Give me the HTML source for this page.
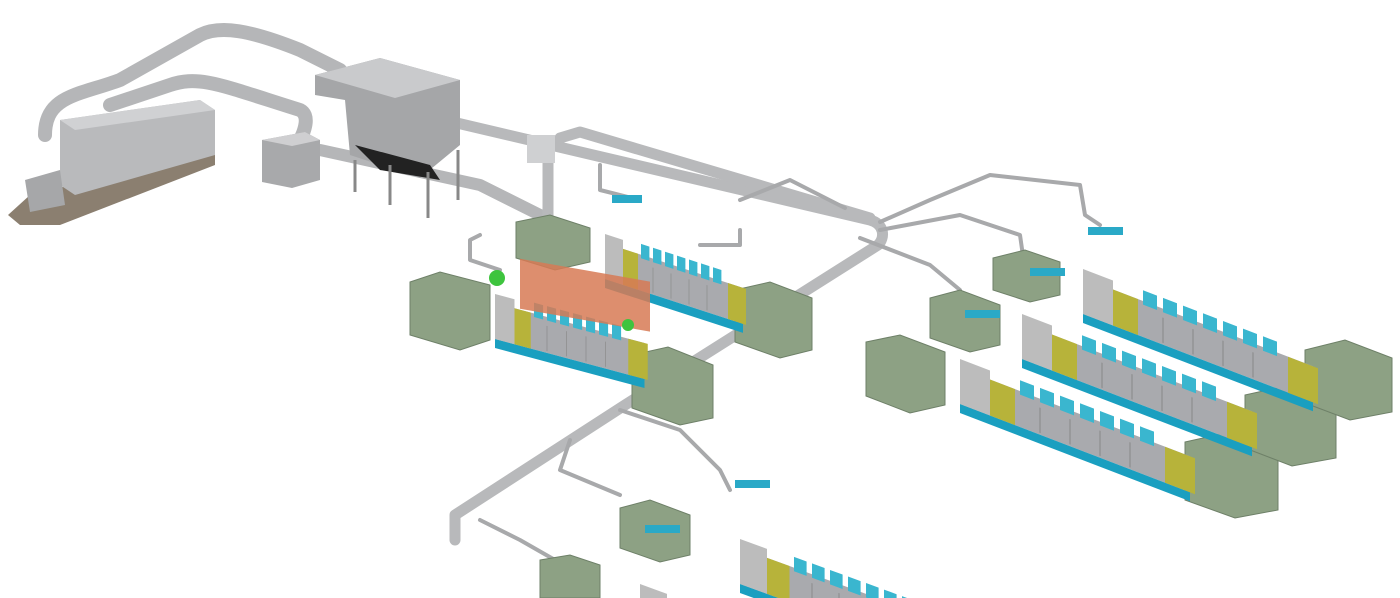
<!DOCTYPE html>
<html><head><meta charset="utf-8"><style>
html,body{margin:0;padding:0;background:#fff;width:1400px;height:598px;overflow:hidden}
svg{display:block}
</style></head><body>
<svg width="1400" height="598" viewBox="0 0 1400 598" xmlns="http://www.w3.org/2000/svg" style="overflow:hidden">
<defs>
<g id="row">
  <polygon points="0,20 230,20 230,60 0,60" fill="#a9aaae"/>
  <polygon points="0,60 230,60 230,70 0,70" fill="#1a9fc0"/>
  <polygon points="0,10 30,10 30,60 0,60" fill="#bcbcbc"/>
  <polygon points="30,20 55,20 55,60 30,60" fill="#b7b33a"/>
  <polygon points="205,20 235,20 235,60 205,60" fill="#b7b33a"/>
  <g fill="#3ab6cf">
    <rect x="60" y="8" width="14" height="16"/><rect x="80" y="8" width="14" height="16"/>
    <rect x="100" y="8" width="14" height="16"/><rect x="120" y="8" width="14" height="16"/>
    <rect x="140" y="8" width="14" height="16"/><rect x="160" y="8" width="14" height="16"/>
    <rect x="180" y="8" width="14" height="16"/>
  </g>
  <g stroke="#888" stroke-width="1"><line x1="80" y1="30" x2="80" y2="58"/><line x1="110" y1="30" x2="110" y2="58"/><line x1="140" y1="30" x2="140" y2="58"/><line x1="170" y1="30" x2="170" y2="58"/></g>
</g>
</defs>
<g fill="none" stroke-linecap="round" stroke-linejoin="round">
  <path d="M45,135 C45,95 80,95 120,80 L200,35 C220,25 250,30 300,50 L340,70" stroke="#b5b6b8" stroke-width="14"/>
  <path d="M110,105 L170,85 C200,75 220,85 300,110 C310,115 305,130 300,140" stroke="#b5b6b8" stroke-width="14"/>
  <path d="M410,112 L870,220 C885,224 885,238 878,245 L625,405 L455,515 L455,540" stroke="#b8b9bb" stroke-width="11"/>
  <path d="M320,150 L480,185 L540,215" stroke="#b5b6b8" stroke-width="12"/>
  <path d="M560,138 L580,132 L870,218" stroke="#b8b9bb" stroke-width="11"/>
  <path d="M548,145 L548,215" stroke="#b8b9bb" stroke-width="11"/>
  <g stroke="#a8a9ab" stroke-width="4">
    <path d="M880,222 L930,200 L990,175 L1080,185 L1085,215 L1100,225"/>
    <path d="M880,230 L960,215 L1020,235 L1025,270"/>
    <path d="M860,238 L930,265 L960,290 L965,320"/>
    <path d="M740,200 L790,180 L845,208"/>
    <path d="M600,165 L600,190 L640,200"/>
    <path d="M480,235 L470,240 L470,260 L500,270"/>
    <path d="M620,410 L680,430 L720,470 L730,490"/>
    <path d="M570,440 L560,470 L620,495"/>
    <path d="M480,520 L520,540 L555,560 L560,598"/>
    <path d="M740,230 L740,245 L700,245"/>
  </g>
</g>
<polygon points="8,215 30,195 215,150 215,165 60,225 20,225" fill="#8b7f70"/>
<polygon points="60,120 200,100 215,110 215,155 75,195 60,185" fill="#b9babc"/>
<polygon points="60,120 200,100 215,110 75,130" fill="#d0d1d3"/>
<polygon points="25,180 60,170 65,205 30,212" fill="#a6a7a9"/>
<polygon points="262,140 305,132 320,140 320,180 292,188 262,182" fill="#a8a9ab"/>
<polygon points="262,140 305,132 320,140 292,146" fill="#cfcfd1"/>
<polygon points="315,75 380,58 460,80 460,145 420,178 350,155 345,100 315,95" fill="#a5a6a8"/>
<polygon points="315,75 380,58 460,80 395,98" fill="#c9cacc"/>
<polygon points="355,145 430,165 440,180 380,170" fill="#222"/>
<g stroke="#888" stroke-width="3"><line x1="355" y1="160" x2="355" y2="192"/><line x1="390" y1="165" x2="390" y2="205"/><line x1="428" y1="172" x2="428" y2="218"/><line x1="458" y1="150" x2="458" y2="200"/></g>
<rect x="527" y="135" width="28" height="28" fill="#cfd0d2"/>
<g fill="#8da184" stroke="#6e8068" stroke-width="1">
  <polygon points="410,282 440,272 490,285 490,340 460,350 410,335"/>
  <polygon points="516,222 550,215 590,228 590,262 555,270 516,258"/>
  <polygon points="735,290 770,282 812,298 812,350 780,358 735,342"/>
  <polygon points="632,355 668,347 713,365 713,418 680,425 632,408"/>
  <polygon points="866,342 900,335 945,352 945,405 910,413 866,396"/>
  <polygon points="930,298 960,290 1000,305 1000,345 970,352 930,338"/>
  <polygon points="993,258 1025,250 1060,262 1060,295 1030,302 993,290"/>
  <polygon points="1185,442 1230,432 1278,450 1278,510 1235,518 1185,500"/>
  <polygon points="1245,395 1290,385 1336,402 1336,458 1292,466 1245,448"/>
  <polygon points="1305,350 1345,340 1392,358 1392,412 1350,420 1305,403"/>
  <polygon points="620,508 650,500 690,515 690,555 660,562 620,548"/>
  <polygon points="540,560 570,555 600,565 600,598 540,598"/>
</g>
<use href="#row" transform="translate(495,285) skewY(15) scale(0.65,0.9)"/>
<use href="#row" transform="translate(605,225) skewY(18) scale(0.6,0.9)"/>
<rect x="520" y="262" width="130" height="50" fill="#d77a55" opacity="0.85" transform="skewY(10) translate(0,-95)"/>
<use href="#row" transform="translate(960,350) skewY(21) scale(1.0,0.9)"/>
<use href="#row" transform="translate(1022,305) skewY(21) scale(1.0,0.9)"/>
<use href="#row" transform="translate(1083,260) skewY(21) scale(1.0,0.9)"/>
<use href="#row" transform="translate(740,530) skewY(20) scale(0.9,0.9)"/>
<use href="#row" transform="translate(640,575) skewY(20) scale(0.9,0.9)"/>
<g fill="#2aa9c7">
  <rect x="612" y="195" width="30" height="8"/><rect x="1088" y="227" width="35" height="8"/>
  <rect x="965" y="310" width="35" height="8"/><rect x="1030" y="268" width="35" height="8"/>
  <rect x="735" y="480" width="35" height="8"/><rect x="645" y="525" width="35" height="8"/>
</g>
<circle cx="497" cy="278" r="8" fill="#3ec43e"/>
<circle cx="628" cy="325" r="6" fill="#3ec43e"/>
</svg>
</body></html>
